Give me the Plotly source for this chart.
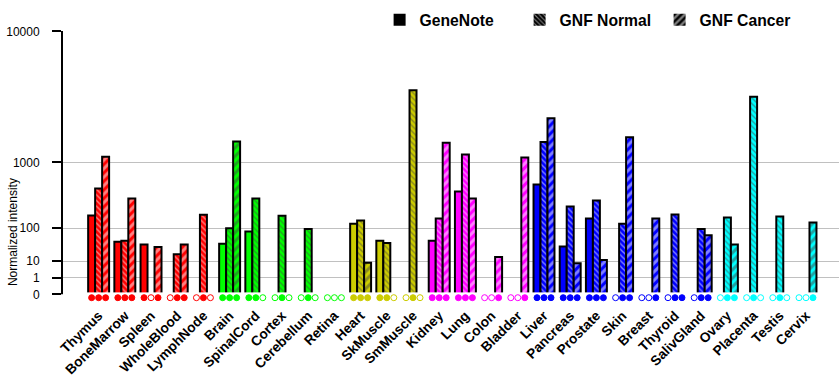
import plotly.graph_objects as go

# ---------------- data ----------------
tissues = ["Thymus", "BoneMarrow", "Spleen", "WholeBlood", "LymphNode",
           "Brain", "SpinalCord", "Cortex", "Cerebellum", "Retina",
           "Heart", "SkMuscle", "SmMuscle",
           "Kidney", "Lung", "Colon", "Bladder",
           "Liver", "Pancreas", "Prostate", "Skin", "Breast", "Thyroid", "SalivGland",
           "Ovary", "Placenta", "Testis", "Cervix"]

tissue_colors = (["#FF0000"] * 5 + ["#00FF00"] * 5 + ["#CCCC00"] * 3 +
                 ["#FF00FF"] * 4 + ["#0000FF"] * 7 + ["#00FFFF"] * 4)

# None = not detected (hollow marker); numbers = normalized intensity
genenote = [180, 47, 39, None, None,
            41, 84, None, None, None,
            124, 50, None,
            50, 437, None, None,
            545, 34, 158, None, None, None, None,
            None, None, None, None]
gnf_normal = [480, 50, None, 19, 185,
              100, 345, 178, 96, None,
              145, 43, 4300,
              158, 1220, None, None,
              1620, 258, 322, 124, None, 188, 96,
              165, 3860, 172, None]
gnf_cancer = [1150, 345, 33, 39, None,
              1640, None, None, None, None,
              8.6, None, None,
              1590, 345, 15, 1135,
              2620, 8.1, 11.3, 1790, 158, 0, 69,
              39, None, None, 132]

y_tick_values = [0, 1, 10, 100, 1000, 10000]
y_tick_labels = ["0", "1", "10", "100", "1000", "10000"]
series_names = ["GeneNote", "GNF Normal", "GNF Cancer"]

# ---------------- styling ----------------
POW = 0.3  # power scale of the y axis


def scale(v):
    return (0 if v is None else v) ** POW


patterns = [
    dict(shape=""),
    dict(shape="\\", size=4, solidity=0.35, fgcolor="white", fillmode="overlay"),
    dict(shape="/", size=6, solidity=0.5, fgcolor="white", fillmode="overlay"),
]

FONT = "Liberation Sans, Arial, sans-serif"

fig = go.Figure()
all_series = [genenote, gnf_normal, gnf_cancer]

for name, vals, pat in zip(series_names, all_series, patterns):
    fig.add_bar(
        x=tissues, y=[scale(v) for v in vals], name=name, offsetgroup=name,
        xaxis="x", yaxis="y",
        marker=dict(color=tissue_colors, line=dict(color="black", width=2), pattern=pat),
        customdata=[("n/d" if v is None else v) for v in vals],
        hovertemplate="%{x}: %{customdata}<extra>" + name + "</extra>",
        showlegend=False,
    )

# detection indicator row (filled = detected, hollow = not detected)
for name, vals in zip(series_names, all_series):
    fill = [c if v is not None else "white" for v, c in zip(vals, tissue_colors)]
    fig.add_scatter(
        x=tissues, y=[0] * len(tissues), mode="markers", offsetgroup=name,
        xaxis="x2", yaxis="y2",
        marker=dict(symbol="circle", size=6, color=fill,
                    line=dict(color=tissue_colors, width=1)),
        cliponaxis=False, showlegend=False, hoverinfo="skip",
    )

# legend entries (black)
for name, pat in zip(series_names, patterns):
    fig.add_bar(x=[None], y=[None], name=name, offsetgroup=name,
                xaxis="x", yaxis="y",
                marker=dict(color="black", line=dict(color="black", width=0), pattern=pat),
                showlegend=True)

xr = [-1.36, 28.26]
fig.update_layout(
    width=840, height=385,
    margin=dict(l=63, r=1, t=5, b=82),
    paper_bgcolor="white", plot_bgcolor="white",
    barmode="group", bargap=0.2, bargroupgap=0,
    scattermode="group", scattergap=0.2,
    font=dict(family=FONT, color="black"),
    showlegend=True,
    legend=dict(orientation="h", x=0.408, xanchor="left", y=0.9497, yanchor="middle",
                font=dict(size=15.7, family=FONT, color="black", weight="bold"),
                entrywidth=95, bgcolor="rgba(0,0,0,0)", traceorder="normal"),
    xaxis=dict(type="category", range=xr, showgrid=False, anchor="y",
               showline=True, linecolor="#C0C0C0", linewidth=1,
               ticks="outside", ticklen=7, tickcolor="rgba(0,0,0,0)",
               tickangle=-45, automargin=False,
               tickfont=dict(family=FONT, size=13.7, weight="bold", color="black")),
    xaxis2=dict(type="category", range=xr, matches="x", anchor="y2",
                showgrid=False, showline=False, zeroline=False,
                showticklabels=False, ticks="", automargin=False),
    yaxis=dict(domain=[0.0292, 0.9117], range=[0, 10000 ** POW], tickmode="array",
               tickvals=[scale(v) for v in y_tick_values], ticktext=y_tick_labels,
               showgrid=True, gridcolor="#C0C0C0", gridwidth=1, zeroline=False,
               showline=True, linecolor="black", linewidth=2,
               ticks="outside", ticklen=9, tickwidth=2, tickcolor="black",
               ticklabelstandoff=10, automargin=False,
               tickfont=dict(family=FONT, size=12, color="black")),
    yaxis2=dict(domain=[0, 0.0356], range=[-1, 1], visible=False, fixedrange=True),
    annotations=[dict(text="Normalized intensity", xref="paper", yref="paper",
                      x=-0.0644, y=0.238, xanchor="center", yanchor="middle",
                      textangle=-90, showarrow=False,
                      font=dict(family=FONT, size=12, color="black"))],
)

fig.write_html("out.html", config={"displayModeBar": False},
               post_script="document.body.style.margin='0px';document.body.style.overflow='hidden';")
